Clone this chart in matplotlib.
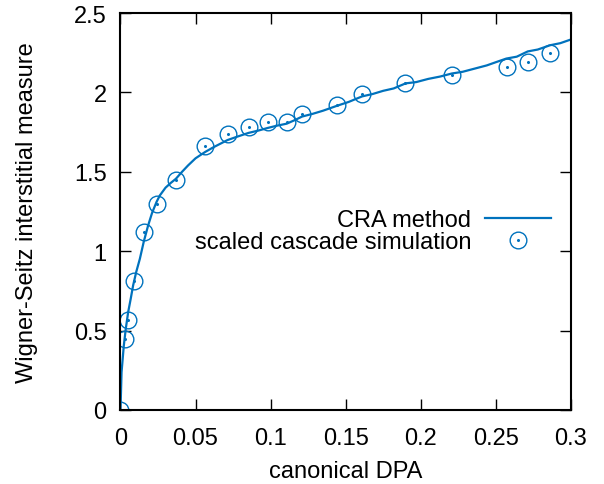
import matplotlib
matplotlib.use("Agg")
import matplotlib.pyplot as plt
from matplotlib.legend_handler import HandlerTuple

plt.rcParams["font.family"] = ["Liberation Sans", "DejaVu Sans"]

# CRA method curve
cra_dpa = [0.0, 0.0007, 0.0022, 0.0035, 0.0051, 0.0068, 0.0084, 0.0105, 0.0129,
           0.0155, 0.0184, 0.021, 0.024, 0.0262, 0.03, 0.0335, 0.0369, 0.041,
           0.045, 0.05, 0.0564, 0.062, 0.0713, 0.078, 0.0853, 0.092, 0.098,
           0.104, 0.1107, 0.116, 0.121, 0.128, 0.135, 0.144, 0.152, 0.161,
           0.168, 0.175, 0.182, 0.19, 0.197, 0.205, 0.213, 0.2207, 0.228,
           0.236, 0.244, 0.25, 0.257, 0.264, 0.2713, 0.278, 0.2862, 0.293, 0.3]
cra_ws = [0.0, 0.238, 0.405, 0.51, 0.616, 0.70, 0.784, 0.87, 0.952,
          1.06, 1.162, 1.24, 1.31, 1.351, 1.40, 1.43, 1.456, 1.50,
          1.54, 1.585, 1.625, 1.655, 1.700, 1.722, 1.745, 1.760, 1.776,
          1.79, 1.803, 1.825, 1.848, 1.865, 1.885, 1.915, 1.94, 1.975,
          1.99, 2.01, 2.025, 2.057, 2.065, 2.085, 2.10, 2.119, 2.13,
          2.15, 2.17, 2.19, 2.213, 2.225, 2.258, 2.27, 2.297, 2.31, 2.333]

# scaled cascade simulation points
sim_dpa = [0.0, 0.0033, 0.0051, 0.0089, 0.0155, 0.024, 0.0369, 0.0564, 0.0713,
           0.0853, 0.098, 0.1107, 0.121, 0.1442, 0.161, 0.1895, 0.2207, 0.2573,
           0.2713, 0.2862]
sim_ws = [0.0, 0.448, 0.569, 0.815, 1.12, 1.299, 1.446, 1.663, 1.74,
          1.782, 1.816, 1.811, 1.866, 1.918, 1.99, 2.06, 2.108, 2.161,
          2.194, 2.249]

color = "#0072bd"
fs = 17

fig = plt.figure(figsize=(6.04, 4.85), dpi=100)
ax = fig.add_axes([0.1995, 0.1526, 0.7455, 0.8185])

line, = ax.plot(cra_dpa, cra_ws, color=color, lw=1.6)
circ, = ax.plot(sim_dpa, sim_ws, ls="none", marker="o", ms=12, mfc="none",
                mec=color, mew=1.0)
dot, = ax.plot(sim_dpa, sim_ws, ls="none", marker="o", ms=1.2, color=color)

ax.set_xlim(0, 0.3)
ax.set_ylim(0, 2.5)
ax.set_xticks([0, 0.05, 0.1, 0.15, 0.2, 0.25, 0.3])
ax.set_xticklabels(["0", "0.05", "0.1", "0.15", "0.2", "0.25", "0.3"])
ax.set_yticks([0, 0.5, 1, 1.5, 2, 2.5])
ax.set_yticklabels(["0", "0.5", "1", "1.5", "2", "2.5"])
ax.tick_params(direction="in", length=8, width=1, top=True, right=True,
               labelsize=fs)
ax.tick_params(axis="x", pad=12)
ax.tick_params(axis="y", pad=10)
for s in ax.spines.values():
    s.set_linewidth(1.5)

ax.set_xlabel("canonical DPA", fontsize=fs, labelpad=8)
ax.set_ylabel("Wigner-Seitz interstitial measure", fontsize=fs, labelpad=26)

ax.legend([line, (circ, dot)], ["CRA method", "scaled cascade simulation"],
          handler_map={tuple: HandlerTuple(ndivide=1, pad=0)},
          loc="upper right", bbox_to_anchor=(0.978, 0.53), frameon=False,
          markerfirst=False, fontsize=fs, handlelength=2.8, handletextpad=0.6,
          labelspacing=0.0, borderaxespad=0)

fig.savefig("out.png", dpi=100)
